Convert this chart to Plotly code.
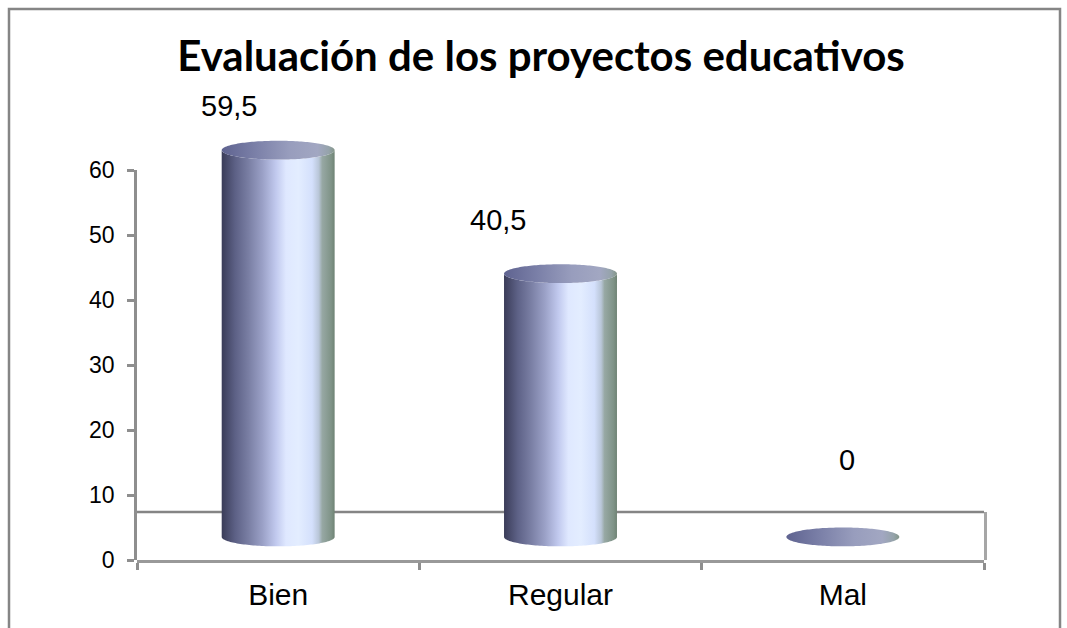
import numpy as np
import plotly.graph_objects as go

# ---------------- data ----------------
categories = ["Bien", "Regular", "Mal"]
values = [59.5, 40.5, 0.0]
value_labels = ["59,5", "40,5", "0"]
y_tick_values = [0, 10, 20, 30, 40, 50, 60]
title_text = "Evaluación de los proyectos educativos"

# ---------------- style / geometry ----------------
W, H = 1067, 628
PX_PER_UNIT = 6.5
M_L, M_R, M_T, M_B = 137, 83, 10, 68
Y_MAX_DATA = (H - M_T - M_B) / PX_PER_UNIT
HALF_W = 0.2          # cylinder half width (category units)
RY = 1.45             # ellipse vertical radius (value units)
BASE = 3.55           # depth offset of cylinder base on the 3D floor
FLOOR_BACK = 7.4      # back edge of the 3D floor
LABEL_SHIFT = [(-49, 44), (-63, 54), (4, 77)]   # (dx, dy) px for value labels

BODY_SCALE = [
    [0.00, "#3a3c58"], [0.12, "#5d6186"], [0.24, "#7a7fa4"], [0.36, "#9aa0c6"],
    [0.48, "#c1c9ee"], [0.57, "#dfe8ff"], [0.68, "#e3edff"], [0.80, "#d4e0fc"],
    [0.86, "#b9c6d8"], [0.89, "#97a8a4"], [0.97, "#7f9387"], [1.00, "#6f8374"],
]
TOP_SCALE = [
    [0.00, "#5f6390"], [0.30, "#7b80a8"], [0.60, "#989dbd"], [0.85, "#a2a7c2"],
    [0.95, "#95a3aa"], [1.00, "#849689"],
]
AXIS_GRAY = "#8e8e8e"
FRAME_GRAY = "#858585"
TXT_FONT = "Liberation Sans, Arial, sans-serif"

fig = go.Figure()

for i, v in enumerate(values):
    cx = i
    top = BASE + v
    t1 = np.linspace(np.pi, 2 * np.pi, 80)
    t2 = np.linspace(2 * np.pi, np.pi, 80)
    bx = np.concatenate([cx + HALF_W * np.cos(t1), cx + HALF_W * np.cos(t2)])
    by = np.concatenate([BASE + RY * np.sin(t1), top + RY * np.sin(t2)])
    bx = np.append(bx, bx[0])
    by = np.append(by, by[0])
    fig.add_trace(go.Scatter(
        x=bx, y=by, mode="none", fill="toself",
        fillgradient=dict(type="horizontal", colorscale=BODY_SCALE,
                          start=cx - HALF_W, stop=cx + HALF_W),
        showlegend=False, hoverinfo="skip"))
    t = np.linspace(0, 2 * np.pi, 160)
    fig.add_trace(go.Scatter(
        x=cx + HALF_W * np.cos(t), y=top + RY * np.sin(t), mode="none", fill="toself",
        fillgradient=dict(type="horizontal", colorscale=TOP_SCALE,
                          start=cx - HALF_W, stop=cx + HALF_W),
        showlegend=False, hoverinfo="skip"))

fig.add_trace(go.Scatter(x=[None], y=[None], yaxis="y2", showlegend=False, hoverinfo="skip"))
fig.add_trace(go.Scatter(x=[None], y=[None], yaxis="y3", showlegend=False, hoverinfo="skip"))

for i, (v, lab) in enumerate(zip(values, value_labels)):
    dx, dy = LABEL_SHIFT[i]
    fig.add_annotation(x=i, y=BASE + v, xref="x", yref="y", text=lab, showarrow=False,
                       xanchor="center", yanchor="middle", xshift=dx, yshift=dy,
                       font=dict(family=TXT_FONT, size=29, color="#000000"))

fig.add_shape(type="line", xref="x", yref="y", x0=-0.5, x1=len(categories) - 0.5,
              y0=FLOOR_BACK, y1=FLOOR_BACK, layer="below",
              line=dict(color="#858585", width=2.5))

plot_w = W - M_L - M_R
plot_h = H - M_T - M_B
fig.add_shape(type="rect", xref="paper", yref="paper",
              x0=(9 - M_L) / plot_w, x1=(1060 - M_L) / plot_w,
              y0=-0.4, y1=(H - M_B - 9) / plot_h,
              line=dict(color=FRAME_GRAY, width=2.5), fillcolor="rgba(0,0,0,0)")

fig.update_layout(
    width=W, height=H,
    margin=dict(l=M_L, r=M_R, t=M_T, b=M_B, pad=0, autoexpand=False),
    paper_bgcolor="white", plot_bgcolor="rgba(0,0,0,0)",
    showlegend=False,
    title=dict(text=title_text, x=541 / W, xanchor="center", y=1 - 56 / H, yanchor="middle",
               xref="container", yref="container", automargin=False,
               font=dict(family="Lato, Carlito, sans-serif", size=42, color="#000000", weight="bold")),
    xaxis=dict(range=[-0.5, len(categories) - 0.5], domain=[0, 1], automargin=False,
               tickmode="array", tickvals=list(range(len(categories))), ticktext=categories,
               ticks="", showline=True, linecolor="#999999", linewidth=2.5,
               showgrid=False, zeroline=False, ticklabelstandoff=6,
               tickfont=dict(family=TXT_FONT, size=30, color="#000000"),
               minor=dict(tickmode="array",
                          tickvals=[k - 0.5 for k in range(len(categories) + 1)],
                          ticks="outside", ticklen=7, tickwidth=2.5, tickcolor=AXIS_GRAY)),
    yaxis=dict(range=[0, Y_MAX_DATA], domain=[0, 1], visible=False, automargin=False),
    yaxis2=dict(range=[0, 60], domain=[0, 60 / Y_MAX_DATA], anchor="x", side="left",
                automargin=False, ticklabelstandoff=8,
                showline=True, linecolor=AXIS_GRAY, linewidth=2.5,
                tickmode="array", tickvals=y_tick_values,
                ticks="outside", ticklen=7, tickwidth=2.5, tickcolor=AXIS_GRAY,
                showgrid=False, zeroline=False,
                tickfont=dict(family=TXT_FONT, size=23, color="#000000")),
    yaxis3=dict(range=[0, FLOOR_BACK], domain=[0, FLOOR_BACK / Y_MAX_DATA], anchor="x", side="right",
                automargin=False,
                showline=True, linecolor="#a6a6a6", linewidth=2.5,
                showticklabels=False, ticks="", showgrid=False, zeroline=False),
)

fig.write_html("out.html", config={"displayModeBar": False},
               post_script="document.body.style.margin='0';")
